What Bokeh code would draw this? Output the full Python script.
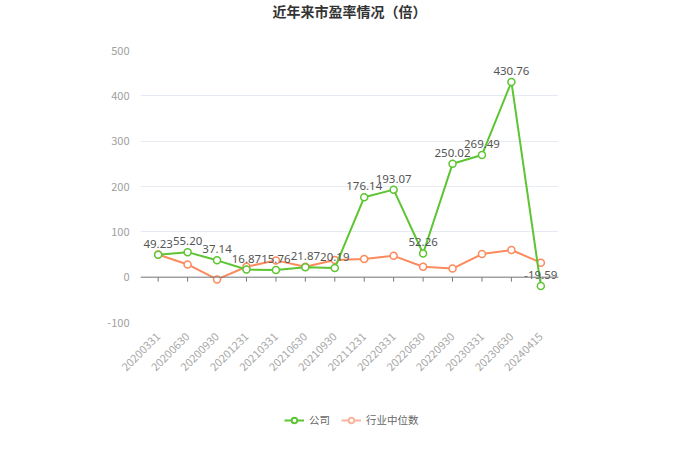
import math
from bokeh.plotting import figure
from bokeh.layouts import column
from bokeh.models import (FactorRange, Range1d, Span, Legend, LegendItem, ColumnDataSource,
                          FixedTicker, Label, PrintfTickFormatter)
from bokeh.core.properties import value
from bokeh.embed import file_html
from bokeh.resources import INLINE

dates = ["20200331", "20200630", "20200930", "20201231", "20210331", "20210630", "20210930",
         "20211231", "20220331", "20220630", "20220930", "20230331", "20230630", "20240415"]
company = [49.23, 55.20, 37.14, 16.87, 15.76, 21.87, 20.19, 176.14, 193.07, 52.26, 250.02, 269.49, 430.76, -19.59]
industry = [50, 28, -5, 23, 37, 23, 38, 40, 47, 23, 19, 51, 60, 32]
company_labels = ["49.23", "55.20", "37.14", "16.87", "15.76", "21.87", "20.19", "176.14", "193.07",
                  "52.26", "250.02", "269.49", "430.76", "-19.59"]
y_ticks = [-100, 0, 100, 200, 300, 400, 500]
series_names = ["公司", "行业中位数"]
title_text = "近年来市盈率情况（倍）"

GREEN = "#5cc531"
ORANGE = "#fb8a5c"
ORANGE_LEGEND = "#fbb49c"
FONT = "Noto Sans CJK SC"


def blank(h):
    f = figure(width=684, height=h, x_range=Range1d(0, 1), y_range=Range1d(0, 1),
               output_backend="svg", toolbar_location=None,
               min_border_left=0, min_border_right=0, min_border_top=0, min_border_bottom=0)
    f.axis.visible = False
    f.grid.grid_line_color = None
    f.outline_line_color = None
    return f


# header with title
hf = blank(25)
hf.add_layout(Label(x=0.5, y=0.6, text=title_text, text_align="center", text_baseline="middle",
                    text_font=FONT, text_font_size="14px", text_font_style="bold",
                    text_color="#333333"))

p = figure(width=684, height=352,
           x_range=FactorRange(factors=dates, range_padding=0.1, range_padding_units="absolute"),
           y_range=Range1d(-100, 500), output_backend="svg", toolbar_location=None,
           min_border_left=140, min_border_right=126, min_border_top=25, min_border_bottom=55)
p.outline_line_color = None
p.background_fill_color = "white"

p.yaxis.ticker = FixedTicker(ticks=y_ticks)
p.yaxis.formatter = PrintfTickFormatter(format="%d")
p.yaxis.axis_line_color = None
p.yaxis.major_tick_line_color = None
p.yaxis.minor_tick_line_color = None
p.yaxis.major_label_text_color = "#a0a0a0"
p.yaxis.major_label_text_font = FONT
p.yaxis.major_label_text_font_size = "11px"
p.yaxis.major_label_standoff = 5

p.ygrid.grid_line_color = "#e6eaf2"
p.xgrid.grid_line_color = None

p.xaxis.axis_line_color = None
p.xaxis.major_tick_line_color = None
p.xaxis.major_label_orientation = math.pi / 4
p.xaxis.major_label_text_color = "#a8a8a8"
p.xaxis.major_label_text_font = FONT
p.xaxis.major_label_text_font_size = "11px"
p.xaxis.major_label_standoff = 6

p.add_layout(Span(location=0, dimension="width", line_color="#7a7a7a", line_width=1))
p.segment(x0=dates, x1=dates, y0=[0] * len(dates), y1=[-10] * len(dates), line_color="#7a7a7a", line_width=1)

src = ColumnDataSource(dict(x=dates, company=company, industry=industry, lab=company_labels))

p.line("x", "industry", source=src, line_color=ORANGE, line_width=2)
p.scatter("x", "industry", source=src, size=7, marker="circle", fill_color="white",
          line_color=ORANGE, line_width=1.5)
p.line("x", "company", source=src, line_color=GREEN, line_width=2)
p.scatter("x", "company", source=src, size=7, marker="circle", fill_color="white",
          line_color=GREEN, line_width=1.5)

p.text("x", "company", text="lab", source=src, text_align="center", text_baseline="bottom",
       y_offset=-7, text_font=value("Noto Sans"), text_font_size="11.5px", text_color="#555555")

# legend figure
lf = blank(80)
lg1 = lf.line(x=[0], y=[0], line_color=GREEN, line_width=2, visible=False)
lg1c = lf.scatter(x=[0], y=[0], size=9, marker="circle", fill_color="white",
                  line_color=GREEN, line_width=2, visible=False)
lg2 = lf.line(x=[0], y=[0], line_color=ORANGE_LEGEND, line_width=2, visible=False)
lg2c = lf.scatter(x=[0], y=[0], size=9, marker="circle", fill_color="white",
                  line_color=ORANGE_LEGEND, line_width=2, visible=False)

legend = Legend(items=[LegendItem(label=series_names[0], renderers=[lg1, lg1c]),
                       LegendItem(label=series_names[1], renderers=[lg2, lg2c])],
                location=(144, 30), orientation="horizontal", border_line_color=None,
                background_fill_alpha=0, padding=0, margin=0, spacing=11, glyph_width=20,
                glyph_height=14, label_standoff=5, label_text_font=FONT,
                label_text_font_size="10.5px", label_text_color="#666666")
lf.add_layout(legend, "center")

layout = column(hf, p, lf, spacing=0)
open("out.html", "w").write(file_html(layout, INLINE))
